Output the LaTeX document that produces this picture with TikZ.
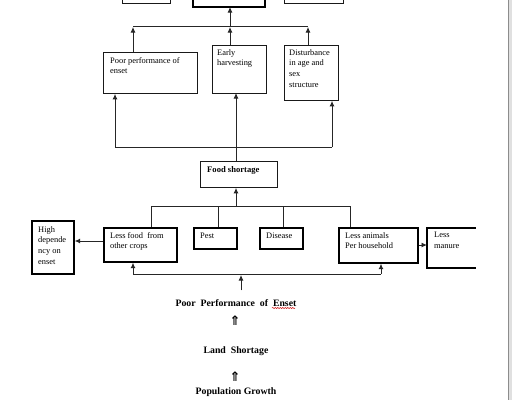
\documentclass[tikz,border=0pt]{standalone}
\usepackage{fontspec}
\setmainfont{Liberation Serif}
\newfontfamily\symfont{DejaVu Sans}
\usetikzlibrary{arrows.meta,calc,decorations.pathmorphing}
\begin{document}
\begin{tikzpicture}[x=1pt,y=-1pt,
  thinbox/.style={draw=black!90,line width=0.9pt},
  thickbox/.style={draw=black,line width=1.7pt},
  lbl/.style={anchor=north west,inner sep=0pt,font=\fontsize{8.4}{10.7}\selectfont,align=left},
  blbl/.style={inner sep=0pt,font=\fontsize{8.6}{10}\selectfont\bfseries},
  big/.style={inner sep=0pt,font=\fontsize{9.8}{11}\selectfont\bfseries},
  dbl/.style={inner sep=0pt,font=\symfont\fontsize{13}{14}\selectfont\bfseries},
  conn/.style={draw=black!85,line width=0.9pt},
  arr/.style={conn,-{Latex[length=5.5pt,width=5pt]}}
]
\useasboundingbox (0,0) rectangle (512,400);
\clip (0,0) rectangle (512,400);
\fill[white] (0,0) rectangle (512,400);
% scrollbar edge
\fill[black!12] (508,0) rectangle (512,400);
\draw[black!45,line width=1pt] (508,0) -- (508,400);

% top boxes (cut off)
\path[thinbox] (122,-10) rectangle (170,3);
\path[thickbox] (193,-10) rectangle (265,7);
\path[thinbox] (284,-10) rectangle (343,3);
\coordinate (topC) at (230,7);

% middle boxes
\node[thinbox,inner sep=0pt,minimum width=94pt,minimum height=41pt,anchor=north west] (pp) at (103,52) {};
\node[thinbox,inner sep=0pt,minimum width=54pt,minimum height=48pt,anchor=north west] (eh) at (212,45) {};
\node[thinbox,inner sep=0pt,minimum width=54pt,minimum height=55pt,anchor=north west] (dis) at (284,45) {};
\node[lbl] at ($(pp.north west)+(7,5)$) {Poor performance of\\enset};
\node[lbl] at ($(eh.north west)+(5,4)$) {Early\\harvesting};
\node[lbl] at ($(dis.north west)+(5,4)$) {Disturbance\\in age and\\sex\\structure};

% connectors to top
\coordinate (h1) at (133,26);
\coordinate (h2) at (308,26);
\draw[conn] (h1) -- (h2);
\draw[arr] ($(pp.north west)+(30,0)$) -- ($(h1)+(0,1)$);
\draw[arr] ($(eh.north west)+(18,0)$) -- (230,27);
\draw[arr] ($(dis.north west)+(24,0)$) -- ($(h2)+(0,1)$);
\draw[arr] (230,26) -- (topC);

% food shortage
\node[thinbox,inner sep=0pt,minimum width=77pt,minimum height=26pt,anchor=north west] (fs) at (200,161) {};
\node[blbl,anchor=west] at ($(fs.west)+(7,-4)$) {Food shortage};
\coordinate (m1) at (115,147);
\coordinate (m3) at (332,147);
\draw[conn] (m1) -- (m3);
\draw[arr] (m1) -- (m1 |- pp.south);
\draw[arr] (236,147) -- (236,93);
\draw[arr] (m3) -- (m3 |- dis.south);
\draw[conn] (fs.north -| 236,0) -- (236,147);

% bottom boxes
\node[thickbox,inner sep=0pt,minimum width=42pt,minimum height=53pt,anchor=north west] (hd) at (31,220) {};
\node[thickbox,inner sep=0pt,minimum width=73pt,minimum height=34pt,anchor=north west] (lf) at (103,227) {};
\node[thickbox,inner sep=0pt,minimum width=43pt,minimum height=21pt,anchor=north west] (pest) at (193,227) {};
\node[thickbox,inner sep=0pt,minimum width=43pt,minimum height=21pt,anchor=north west] (dz) at (259,227) {};
\node[thickbox,inner sep=0pt,minimum width=79pt,minimum height=35pt,anchor=north west] (la) at (338,227) {};
\coordinate (lmw) at (427,248);
\draw[thickbox] (480,228) -- (427,228) -- (427,268) -- (480,268);
\path[fill=white] (475.5,225) rectangle (490,271);

\node[lbl] at ($(hd.north west)+(7,6)$) {High\\depende\\ncy on\\enset};
\node[lbl] at ($(lf.north west)+(7,5)$) {Less food\ \ from\\other crops};
\node[lbl] at ($(pest.north west)+(7,6)$) {Pest};
\node[lbl] at ($(dz.north west)+(7,6)$) {Disease};
\node[lbl] at ($(la.north west)+(7,5)$) {Less animals\\Per household};
\node[lbl] at (434,232) {Less\\manure};

% connectors in bottom row
\draw[arr] (236,206) -- (fs.south -| 236,0);
\coordinate (b1) at (151,206);
\coordinate (b4) at (350,206);
\draw[conn] (b1) -- (b4);
\draw[conn] (b1) -- (b1 |- lf.north);
\draw[conn] (218,206) -- (218,227);
\draw[conn] (283,206) -- (283,227);
\draw[conn] (b4) -- (b4 |- la.north);
\draw[arr] (lf.west |- 0,241) -- (hd.east |- 0,241);
\draw[arr] (la.east |- 0,245) -- (427,245);

\coordinate (c1) at (133,274);
\coordinate (c2) at (381,274);
\draw[conn] (c1) -- (c2);
\draw[arr] (c1) -- (c1 |- lf.south);
\draw[arr] (c2) -- (c2 |- la.south);

% bottom chain
\node[big] (ppe) at (236,303) {Poor\ \ Performance\ \ of\ \ Enset};
\draw[red!80!black,line width=0.5pt,decorate,decoration={snake,amplitude=0.6pt,segment length=2.5pt}] (272,308) -- (295,308);
\draw[arr] (ppe.north -| 241,0) ++(0,-9) -- (241,275);
\node[dbl] (ar1) at (235,321) {⇑};
\node[big] (ls) at (236,351) {Land\ \ Shortage};
\node[dbl] (ar2) at (235,377) {⇑};
\node[big] (pg) at (236,392) {Population\ Growth};
\end{tikzpicture}
\end{document}
